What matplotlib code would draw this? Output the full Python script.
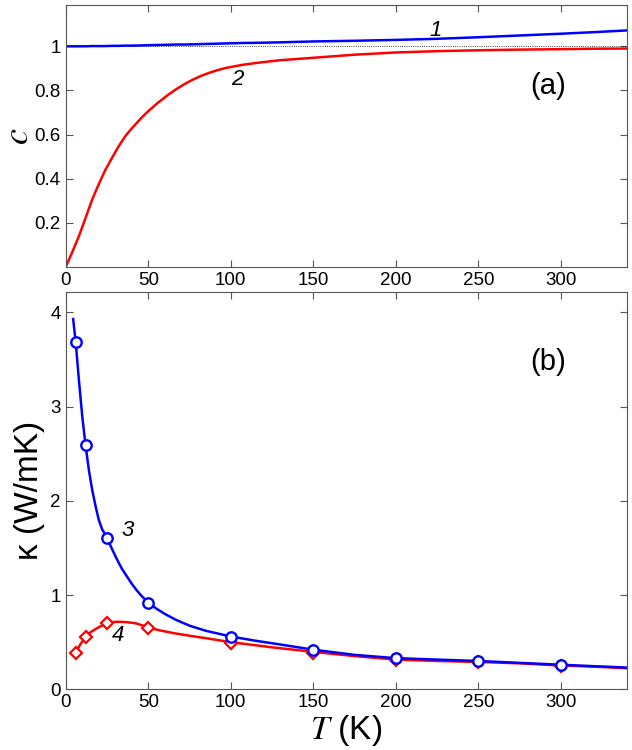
import matplotlib
matplotlib.use("Agg")
import matplotlib.pyplot as plt

plt.rcParams['font.family'] = ['Liberation Sans', 'DejaVu Sans']
plt.rcParams['mathtext.fontset'] = 'stix'

# panel (a): c versus T
T_c = [0, 4, 8, 12, 16, 20, 24, 28, 32, 36, 40, 46, 50, 56, 62, 67, 72, 77, 82, 87, 92, 97,
       107, 117, 130, 150, 175, 200, 225, 250, 275, 300, 320, 340]
c_curve1 = [1.000, 1.000, 1.000, 1.000, 1.001, 1.001, 1.001, 1.002, 1.002, 1.003, 1.003, 1.004,
            1.005, 1.006, 1.007, 1.008, 1.008, 1.009, 1.010, 1.011, 1.012, 1.013, 1.015, 1.016,
            1.018, 1.022, 1.025, 1.029, 1.034, 1.041, 1.049, 1.057, 1.064, 1.072]
c_curve2 = [0.0, 0.068, 0.14, 0.222, 0.305, 0.375, 0.44, 0.494, 0.546, 0.592, 0.628, 0.677, 0.706,
            0.745, 0.780, 0.806, 0.829, 0.849, 0.866, 0.880, 0.892, 0.902, 0.916, 0.926, 0.937,
            0.948, 0.962, 0.972, 0.978, 0.982, 0.985, 0.987, 0.989, 0.99]

# panel (b): kappa versus T, lines
T_k3 = [4.5, 6, 8, 10, 12, 14, 16, 18, 20, 22, 25, 28, 31, 34, 37, 40, 43, 46, 50, 55, 60, 67,
        75, 85, 100, 115, 130, 150, 175, 200, 225, 250, 275, 300, 320, 340]
k_curve3 = [3.93, 3.69, 3.28, 2.90, 2.59, 2.33, 2.12, 1.95, 1.80, 1.70, 1.61, 1.49, 1.38, 1.28,
            1.20, 1.12, 1.05, 0.99, 0.92, 0.855, 0.80, 0.735, 0.675, 0.62, 0.56, 0.515, 0.475,
            0.42, 0.365, 0.33, 0.315, 0.30, 0.28, 0.26, 0.245, 0.23]
T_k4 = [6, 9, 12, 15, 18, 21, 25, 28, 31, 34, 37, 40, 43, 50, 57, 65, 75, 85, 100, 125, 150,
        175, 200, 225, 250, 275, 300, 320, 340]
k_curve4 = [0.39, 0.48, 0.56, 0.605, 0.638, 0.668, 0.700, 0.712, 0.716, 0.715, 0.712, 0.706,
            0.698, 0.655, 0.625, 0.597, 0.568, 0.542, 0.50, 0.445, 0.397, 0.352, 0.315, 0.30,
            0.29, 0.275, 0.252, 0.24, 0.223]

# panel (b): data points
T_pts = [6, 12, 25, 50, 100, 150, 200, 250, 300]
k_pts3 = [3.69, 2.59, 1.61, 0.92, 0.56, 0.42, 0.33, 0.30, 0.26]
k_pts4 = [0.39, 0.56, 0.70, 0.65, 0.49, 0.39, 0.31, 0.29, 0.25]

fig = plt.figure(figsize=(6.32, 7.5), dpi=100)
ax1 = fig.add_axes([0.104, 0.644, 0.888, 0.349])
ax2 = fig.add_axes([0.104, 0.081, 0.888, 0.530])


def style_axes(ax):
    for s in ax.spines.values():
        s.set_color('#555555')
    ax.tick_params(direction='in', top=True, right=True, length=5, width=0.8,
                   color='#555555', labelsize=13.5)
    ax.set_xlim(0, 340)
    ax.set_xticks([0, 50, 100, 150, 200, 250, 300])


# --- (a) ---
ax1.plot([0, 340], [1, 1], color='black', ls=':', lw=0.6)
ax1.plot(T_c, c_curve1, color='blue', lw=1.8)
ax1.plot(T_c, c_curve2, color='red', lw=1.8)
style_axes(ax1)
ax1.set_ylim(0, 1.186)
ax1.set_yticks([0.2, 0.4, 0.6, 0.8, 1])
ax1.set_yticklabels(['0.2', '0.4', '0.6', '0.8', '1'])
# y label placed by hand so it stays inside the figure
fig.text(0.029, 0.818, '$c$', fontsize=26, rotation=90, ha='center', va='center')
ax1.text(224, 1.072, '1', fontsize=16, style='italic', ha='center', va='center')
ax1.text(104, 0.85, '2', fontsize=16, style='italic', ha='center', va='center')
ax1.text(292, 0.82, '(a)', fontsize=21, ha='center', va='center')

# --- (b) ---
ax2.plot(T_k4, k_curve4, color='red', lw=1.8)
ax2.plot(T_pts, k_pts4, ls='none', marker='D', ms=6.5, mfc='white', mec='red', mew=1.6)
ax2.plot(T_k3, k_curve3, color='blue', lw=1.8)
ax2.plot(T_pts, k_pts3, ls='none', marker='o', ms=7.5, mfc='white', mec='blue', mew=1.7)
style_axes(ax2)
ax2.set_ylim(0, 4.22)
ax2.set_yticks([0, 1, 2, 3, 4])
ax2.set_ylabel('κ (W/mK)', fontsize=24, labelpad=4)
ax2.set_xlabel('$T$ (K)', fontsize=24, labelpad=1)
ax2.text(37.5, 1.69, '3', fontsize=16, style='italic', ha='center', va='center')
ax2.text(31.5, 0.57, '4', fontsize=16, style='italic', ha='center', va='center')
ax2.text(292, 3.47, '(b)', fontsize=21, ha='center', va='center')

fig.savefig('out.png', dpi=100)
